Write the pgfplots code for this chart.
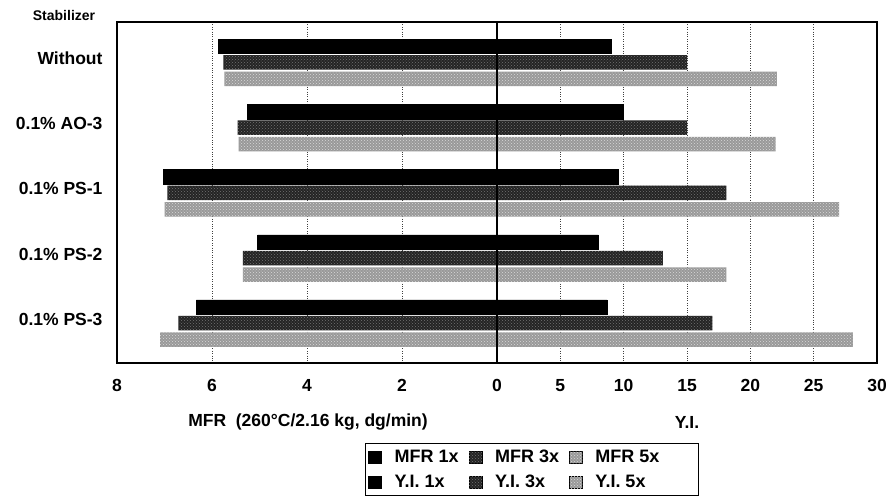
\documentclass[border=0pt]{standalone}
\usepackage{pgfplots}
\pgfplotsset{compat=1.18}
\usepackage{pgfplotstable}
\usepackage{fontspec}
\setmainfont{Liberation Sans}
\usetikzlibrary{patterns}

% MFR values (dg/min) and Y.I. values per stabilizer
\pgfplotstableread{
pos mfr1 mfr3 mfr5 yi1 yi3 yi5
0 5.86 5.76 5.74 9.0 15.0 22.1
1 5.25 5.46 5.44 10.0 15.0 22.0
2 7.03 6.94 7.00 9.55 18.1 27.0
3 5.04 5.35 5.35 8.0 13.1 18.1
4 6.33 6.71 7.09 8.7 17.0 28.1
}\data

\begin{document}
\begin{tikzpicture}
\path[use as bounding box] (0,0) rectangle (888pt,499pt);
\begin{axis}[
  at={(117pt,136pt)}, anchor=south west,
  scale only axis, width=760pt, height=341pt,
  xmin=-30, xmax=30, ymin=-0.62, ymax=4.61,
  y dir=reverse,
  xbar, bar width=14.5pt,
  axis line style={line width=1.2pt},
  xtick={-30,-22.5,-15,-7.5,0,5,10,15,20,25,30},
  xticklabels={8,6,4,2,0,5,10,15,20,25,30},
  ytick={0,1,2,3,4},
  yticklabels={Without,0.1\% AO-3,0.1\% PS-1,0.1\% PS-2,0.1\% PS-3},
  major tick length=0pt,
  xmajorgrids,
  grid style={black!75, line width=0.9pt, dash pattern=on 1pt off 1.4pt},
  /pgf/number format/assume math mode=true,
  tick label style={font=\fontsize{17.5}{20}\selectfont\bfseries},
  xticklabel style={yshift=-13pt},
  yticklabel style={xshift=-11pt, yshift=4pt},
  legend columns=3,
  legend cell align=left,
  legend style={at={(0.326,-0.2346)}, anchor=north west, draw=black, line width=1pt,
    inner ysep=1pt, inner xsep=3pt,
    nodes={font=\fontsize{18}{21}\selectfont\bfseries, inner xsep=2pt, inner ysep=5.5pt},
    /tikz/every even column/.append style={column sep=8pt},
    /tikz/every odd column/.append style={column sep=11pt},
    row sep=0pt},
  legend image code/.code={\draw[#1, line width=0.4pt] (0pt,-6pt) rectangle (13pt,6pt);},
]
% MFR bars (left half, scale 8 dg/min = 30 units)
\addplot[fill=black, draw=black, bar shift=16pt] table[x expr=-3.75*\thisrow{mfr1}, y=pos]{\data};
\addplot[fill=black!86, draw=none, bar shift=0pt, postaction={pattern=crosshatch dots, pattern color=black!55}] table[x expr=-3.75*\thisrow{mfr3}, y=pos]{\data};
\addplot[fill=black!40, draw=none, bar shift=-16.5pt, postaction={pattern=crosshatch dots, pattern color=black!15}] table[x expr=-3.75*\thisrow{mfr5}, y=pos]{\data};
% Y.I. bars (right half)
\addplot[fill=black, draw=black, bar shift=16pt] table[x=yi1, y=pos]{\data};
\addplot[fill=black!86, draw=none, bar shift=0pt, postaction={pattern=crosshatch dots, pattern color=black!55}] table[x=yi3, y=pos]{\data};
\addplot[fill=black!40, draw=none, bar shift=-16.5pt, postaction={pattern=crosshatch dots, pattern color=black!15}] table[x=yi5, y=pos]{\data};
\legend{MFR 1x, MFR 3x, MFR 5x\hspace*{34pt}, Y.I. 1x, Y.I. 3x, Y.I. 5x}
\draw[black, line width=1.2pt] (axis cs:0,-0.62) -- (axis cs:0,4.61);
\end{axis}
\node[font=\fontsize{14}{16}\selectfont\bfseries] at (64pt,484pt) {Stabilizer};
\node[font=\fontsize{17.5}{20}\selectfont\bfseries] at (308pt,77pt) {MFR\ \ (260°C/2.16 kg, dg/min)};
\node[font=\fontsize{17.5}{20}\selectfont\bfseries] at (687pt,77pt) {Y.I.};
\end{tikzpicture}
\end{document}
